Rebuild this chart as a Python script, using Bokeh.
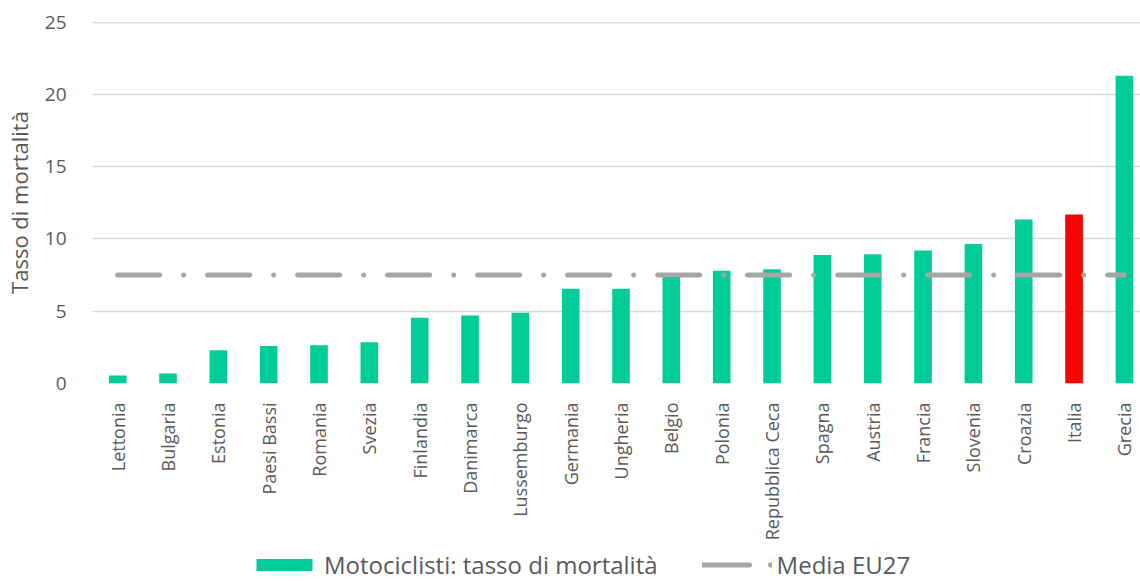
import math
from bokeh.plotting import figure
from bokeh.layouts import column
from bokeh.models import (ColumnDataSource, Range1d, FixedTicker, Legend, LegendItem)
from bokeh.embed import file_html
from bokeh.resources import INLINE

# ---- data ----
countries = ["Lettonia", "Bulgaria", "Estonia", "Paesi Bassi", "Romania", "Svezia",
             "Finlandia", "Danimarca", "Lussemburgo", "Germania", "Ungheria", "Belgio",
             "Polonia", "Repubblica Ceca", "Spagna", "Austria", "Francia", "Slovenia",
             "Croazia", "Italia", "Grecia"]
rates = [0.55, 0.7, 2.3, 2.6, 2.65, 2.85, 4.55, 4.7, 4.9, 6.55, 6.55, 7.5,
         7.8, 7.9, 8.9, 8.95, 9.2, 9.65, 11.35, 11.7, 21.3]
eu27_avg = 7.5
highlight = "Italia"
y_ticks = [0, 5, 10, 15, 20, 25]
series_label = "Motociclisti: tasso di mortalità"
avg_label = "Media EU27"
y_title = "Tasso di mortalità"

GREEN = "#00CC99"
RED = "#FF0000"
GREY_LINE = "#A6A6A6"
TEXT = "#595959"
FONT = "Open Sans"

idx = list(range(len(countries)))
colors = [RED if c == highlight else GREEN for c in countries]
src = ColumnDataSource(dict(x=idx, top=rates, color=colors))

p = figure(width=1140, height=547, output_backend="svg", toolbar_location=None,
           x_range=Range1d(-0.5, 20.32), y_range=Range1d(0, 25.05),
           min_border_left=91, min_border_top=21, min_border_right=0, min_border_bottom=164)
p.outline_line_color = None
p.background_fill_color = "white"

bars = p.vbar(x="x", top="top", width=0.35, fill_color="color", line_color=None, source=src)
avg_line = p.line(x=[idx[0], idx[-1]], y=[eu27_avg, eu27_avg], line_color=GREY_LINE,
                  line_width=5, line_cap="round", line_dash="42 24 0 24")

# axes
p.xgrid.grid_line_color = None
p.ygrid.grid_line_color = "#D9D9D9"
p.ygrid.grid_line_width = 1.5
p.yaxis.ticker = FixedTicker(ticks=y_ticks)
p.xaxis.ticker = FixedTicker(ticks=idx)
p.xaxis.major_label_overrides = {i: c for i, c in zip(idx, countries)}
p.xaxis.major_label_orientation = math.pi / 2
for ax in (p.xaxis, p.yaxis):
    ax.axis_line_color = None
    ax.major_tick_line_color = None
    ax.minor_tick_line_color = None
    ax.major_label_text_color = TEXT
    ax.major_label_text_font = FONT
p.xaxis.major_label_text_font_size = "18px"
p.xaxis.major_label_standoff = 13
p.yaxis.major_label_text_font_size = "19px"
p.yaxis.major_label_standoff = 20
p.yaxis.axis_label = y_title
p.yaxis.axis_label_text_font = FONT
p.yaxis.axis_label_text_font_size = "22px"
p.yaxis.axis_label_text_font_style = "normal"
p.yaxis.axis_label_text_color = TEXT
p.yaxis.axis_label_standoff = 8

# ---- legend strip (separate figure under the chart) ----
lg = figure(width=1140, height=34, output_backend="svg", toolbar_location=None,
            x_range=Range1d(0, 1), y_range=Range1d(0, 1),
            x_axis_type=None, y_axis_type=None,
            min_border_left=0, min_border_right=0, min_border_top=0, min_border_bottom=0)
lg.outline_line_color = None
lg.xgrid.grid_line_color = None
lg.ygrid.grid_line_color = None
# legend proxies, placed outside the visible ranges
leg_bar = lg.vbar(x=[5], top=[5], width=0.5, fill_color=GREEN, line_color=None)
leg_line = lg.line(x=[5, 6], y=[5, 5], line_color=GREY_LINE, line_width=5, line_cap="round",
                   line_dash="47 21 0 30")
legend = Legend(items=[LegendItem(label=series_label, renderers=[leg_bar]),
                       LegendItem(label=avg_label, renderers=[leg_line])],
                orientation="horizontal", location=(157, 0),
                glyph_width=70, glyph_height=15, label_standoff=5, spacing=44,
                label_text_font=FONT, label_text_font_size="24px", label_text_color=TEXT,
                padding=0, margin=0, border_line_color=None, background_fill_alpha=0)
lg.add_layout(legend, "center")

layout = column(p, lg, spacing=0)
open("out.html", "w").write(file_html(layout, INLINE))
